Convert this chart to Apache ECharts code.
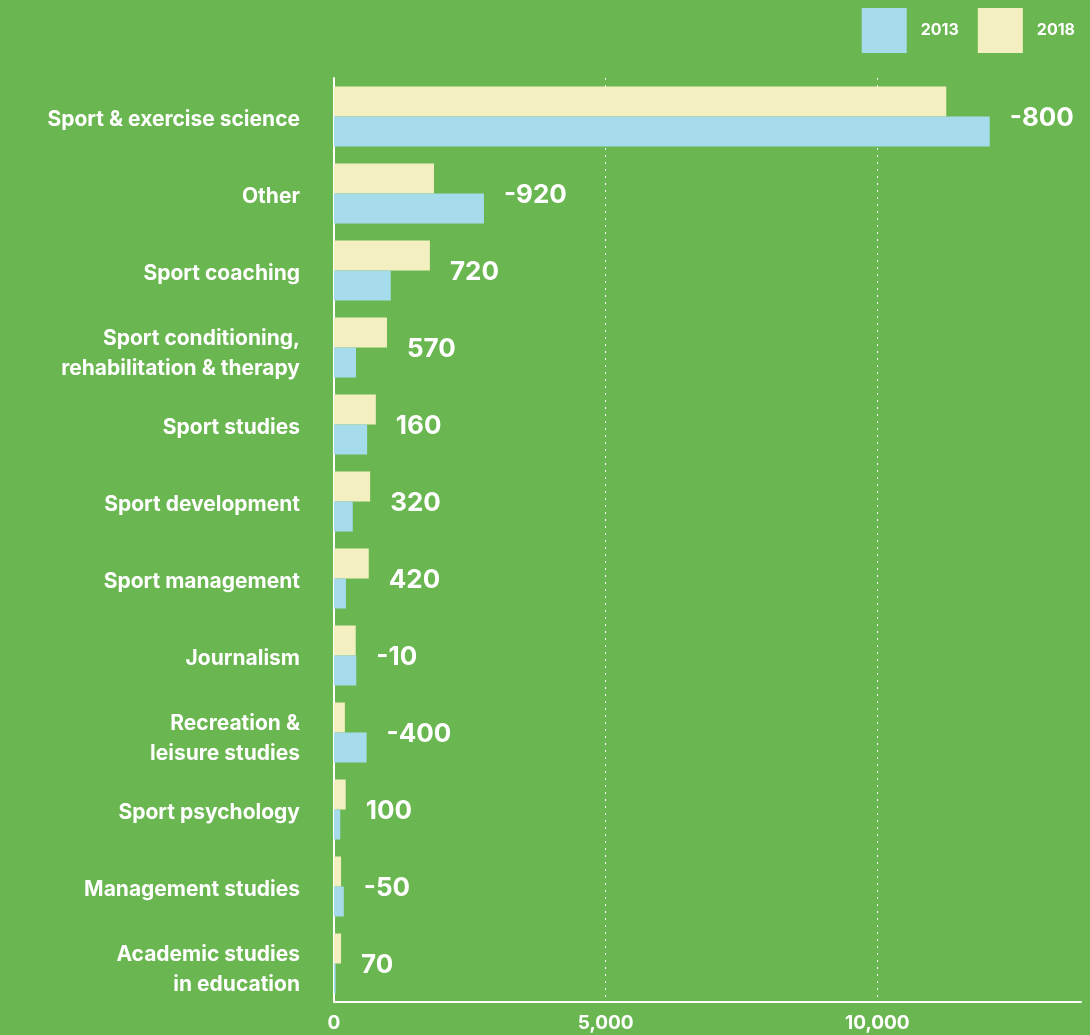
<!DOCTYPE html>
<html><head><meta charset="utf-8">
<script src="https://cdn.jsdelivr.net/npm/echarts@6/dist/echarts.min.js"></script>
<style>html,body{margin:0;padding:0;background:#6ab650;}#c{width:1090px;height:1035px;}</style>
</head><body><div id="c"></div>
<script>
const categories = ["Sport & exercise science","Other","Sport coaching","Sport conditioning,\nrehabilitation & therapy","Sport studies","Sport development","Sport management","Journalism","Recreation &\nleisure studies","Sport psychology","Management studies","Academic studies\nin education"];
const values2013 = [12070,2760,1045,405,610,345,220,410,600,115,180,30];
const values2018 = [11270,1840,1765,975,770,665,640,400,200,215,130,130];
const changeLabels = ["-800","-920","720","570","160","320","420","-10","-400","100","-50","70"];
const xTicks = [0,5000,10000];

const FONT = "Inter, 'Open Sans', sans-serif";
const chart = echarts.init(document.getElementById('c'));
const labelPos = categories.map((c,i)=>[Math.max(values2013[i],values2018[i]), c]);
const catText = {color:'#fff',fontFamily:FONT,fontWeight:'bold',fontSize:21,lineHeight:30,align:'right'};
chart.setOption({
  backgroundColor:'#6ab650',
  animation:false,
  legend:{
    right:15, top:8, padding:0, itemWidth:45, itemHeight:45, itemGap:19,
    data:['2013','2018'],
    textStyle:{color:'#fff',fontFamily:FONT,fontWeight:'bold',fontSize:16,padding:[0,0,0,9]},
    icon:'rect'
  },
  grid:{left:334,right:9,top:78,bottom:33},
  xAxis:{
    type:'value', min:0, max:13750, interval:5000,
    axisLine:{show:true,lineStyle:{color:'#fff',width:2}},
    axisTick:{show:false},
    splitLine:{show:true,showMinLine:false,showMaxLine:false,lineStyle:{color:'#fff',type:[2,5],width:1}},
    axisLabel:{color:'#fff',fontFamily:FONT,fontWeight:'bold',fontSize:19,margin:12,showMaxLabel:false,
      formatter:v=> xTicks.includes(v) ? v.toLocaleString('en-US') : ''}
  },
  yAxis:{
    type:'category', data:categories, inverse:true,
    axisLine:{show:true,lineStyle:{color:'#fff',width:2}},
    axisTick:{show:false},
    axisLabel:{color:'#fff',fontFamily:FONT,fontWeight:'bold',fontSize:21,margin:34,align:'right',lineHeight:30,
      formatter:v=>{const ls=v.split('\n');
        if(ls.length===1) return '{s|'+v+'}';
        return ls.map(l=>'{m|'+l+'}').join('\n');},
      rich:{s:Object.assign({padding:[6,0,0,0]},catText), m:Object.assign({padding:[12,0,0,0]},catText)}
    }
  },
  series:[
    {name:'2018',type:'bar',data:values2018,barWidth:30,barGap:'0%',itemStyle:{color:'#f4efc1'}},
    {name:'2013',type:'bar',data:values2013,barWidth:30,barGap:'0%',itemStyle:{color:'#a6dbec'}},
    {name:'labels',type:'scatter',data:labelPos,symbolSize:0,silent:true,itemStyle:{opacity:1},
      label:{show:true,position:'right',distance:20,offset:[0,2],color:'#ffffff',opacity:1,fontFamily:FONT,fontWeight:'bold',fontSize:26,
        formatter:p=>changeLabels[p.dataIndex]}}
  ]
});
</script></body></html>
